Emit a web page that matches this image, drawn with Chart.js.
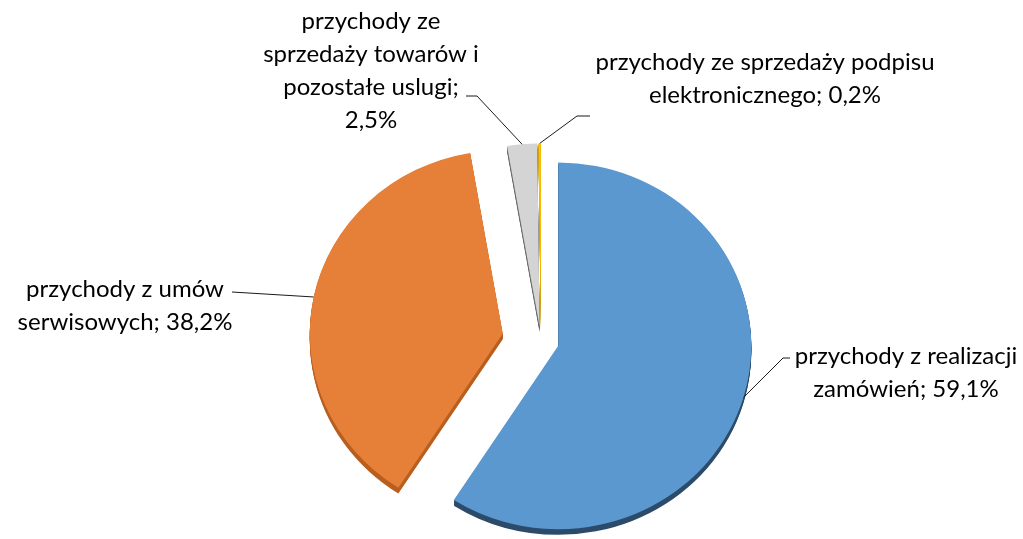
<!DOCTYPE html>
<html lang="pl">
<head>
<meta charset="utf-8">
<title>Struktura przychodów</title>
<script src="https://cdn.jsdelivr.net/npm/chart.js@4.4.1/dist/chart.umd.min.js"></script>
<style>
  html, body { margin: 0; padding: 0; background: #fff; }
  #wrap { position: relative; width: 1023px; height: 539px; }
</style>
</head>
<body>
<div id="wrap"><canvas id="pieChart"></canvas></div>
<script>
  const categories = [
    'przychody z realizacji zamówień',
    'przychody z umów serwisowych',
    'przychody ze sprzedaży towarów i pozostałe uslugi',
    'przychody ze sprzedaży podpisu elektronicznego'
  ];
  const shares = [59.1, 38.2, 2.5, 0.2];
  // how each label is wrapped, {v} is replaced by the share
  const labelLines = [
    ['przychody z realizacji', 'zamówień; {v}'],
    ['przychody z umów', 'serwisowych; {v}'],
    ['przychody ze', 'sprzedaży towarów i', 'pozostałe uslugi;', '{v}'],
    ['przychody ze sprzedaży podpisu', 'elektronicznego; {v}']
  ];

  const sliceColors = ['#5b98cf', '#e67f38', '#d4d4d4', '#ffc000'];
  const sideColors = ['#2c4a69', '#b85e1f', '#6a6a6a', '#b88a00'];
  const explode = [18, 39, 15, 15];
  const TILT = 0.95, DEPTH = 6, LINE_H = 33;
  const FONT = '24px Lato, "Open Sans", sans-serif';

  // where the label text sits (centre x, first line y) and the leader line start/elbow
  const labelLayout = [
    { x: 906, y: 356, from: [790, 358], elbow: [783, 358] },
    { x: 125, y: 289, from: [232, 292], elbow: [232, 292] },
    { x: 371, y: 21,  from: [466, 96],  elbow: [477, 96] },
    { x: 765, y: 62,  from: [590, 116], elbow: [577, 116] }
  ];

  function fmt(v) {
    return v.toFixed(1).replace('.', ',') + '%';
  }

  function centre(chart) {
    const a = chart.chartArea;
    return { cx: (a.left + a.right) / 2, cy: (a.top + a.bottom) / 2 };
  }

  const pie3d = {
    id: 'pie3d',
    afterDatasetUpdate(chart, args) {
      // pull slices out along their middle angle
      args.meta.data.forEach((arc, i) => {
        const mid = (arc.startAngle + arc.endAngle) / 2;
        arc.x += Math.cos(mid) * explode[i];
        arc.y += Math.sin(mid) * explode[i];
      });
    },
    beforeDatasetDraw(chart, args) {
      const ctx = chart.ctx;
      const { cx, cy } = centre(chart);
      ctx.save();
      ctx.translate(cx, cy);
      ctx.scale(1, TILT);
      ctx.translate(-cx, -cy);
      // side walls of the slices
      args.meta.data.forEach((arc, i) => {
        ctx.fillStyle = sideColors[i];
        for (let d = 1; d <= DEPTH; d++) {
          ctx.beginPath();
          ctx.moveTo(arc.x, arc.y + d);
          ctx.arc(arc.x, arc.y + d, arc.outerRadius, arc.startAngle, arc.endAngle);
          ctx.closePath();
          ctx.fill();
        }
      });
    },
    afterDatasetDraw(chart) {
      chart.ctx.restore();
    },
    afterDraw(chart) {
      const ctx = chart.ctx;
      const { cy } = centre(chart);
      const arcs = chart.getDatasetMeta(0).data;
      ctx.save();
      ctx.strokeStyle = '#1a1a1a';
      ctx.lineWidth = 1;
      ctx.font = FONT;
      ctx.fillStyle = '#000';
      ctx.textAlign = 'center';
      ctx.textBaseline = 'middle';
      arcs.forEach((arc, i) => {
        const mid = (arc.startAngle + arc.endAngle) / 2;
        const px = arc.x + Math.cos(mid) * arc.outerRadius;
        const py = cy + (arc.y + Math.sin(mid) * arc.outerRadius - cy) * TILT;
        const lay = labelLayout[i];
        ctx.beginPath();
        ctx.moveTo(lay.from[0], lay.from[1]);
        ctx.lineTo(lay.elbow[0], lay.elbow[1]);
        ctx.lineTo(px, py);
        ctx.stroke();
        labelLines[i].forEach((ln, k) => {
          ctx.fillText(ln.replace('{v}', fmt(shares[i])), lay.x, lay.y + k * LINE_H);
        });
      });
      ctx.restore();
    }
  };

  new Chart(document.getElementById('pieChart'), {
    type: 'pie',
    data: {
      labels: categories,
      datasets: [{
        data: shares,
        backgroundColor: sliceColors,
        borderWidth: 0
      }]
    },
    options: {
      responsive: true,
      maintainAspectRatio: false,
      animation: false,
      events: [],
      radius: 193,
      layout: { padding: { left: 59, right: 0, top: 143, bottom: 0 } },
      plugins: {
        legend: { display: false },
        tooltip: { enabled: false }
      }
    },
    plugins: [pie3d]
  });
</script>
</body>
</html>
